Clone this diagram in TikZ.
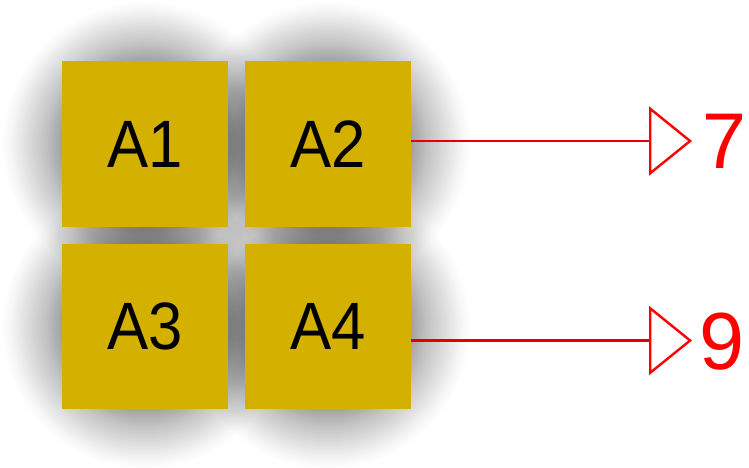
\documentclass[tikz,border=0pt]{standalone}
\usepackage{fontspec}
\usetikzlibrary{arrows.meta}
\newfontfamily\cellfont[FakeStretch=0.92]{Liberation Sans}
\newfontfamily\valfont{Liberation Sans}
\definecolor{cellgold}{RGB}{212,176,0}
\definecolor{wirered}{RGB}{228,0,0}
\definecolor{valred}{RGB}{255,0,0}
% darkness of the glow at distance #1 from a cell centre
\pgfmathdeclarefunction{glowdark}{1}{%
  \pgfmathparse{0.37*pow(max(min((145-#1)/62,1),0.0001),1.25)}}
\tikzset{
  cell/.style={fill=cellgold, draw=none, minimum width=166pt, minimum height=166pt,
    inner sep=0pt, font=\cellfont\fontsize{67}{67}\selectfont, text=black},
  wire/.style={draw=wirered, line width=2.8pt,
    -{Triangle[open, length=43pt 0, width=69pt 0, line width=2.4pt 0, color=valred]}},
  val/.style={text=valred, inner sep=0pt, anchor=base west}
}
\begin{document}
\begin{tikzpicture}[x=1pt, y=-1pt]
\useasboundingbox (0,0) rectangle (749,468);
% soft round glows behind the cells, built from stacked translucent discs
\foreach \cx/\cy in {145/144, 328/144, 145/326.5, 328/326.5}{
  \foreach \r in {145,143,...,83}{
    \pgfmathsetmacro{\din}{glowdark(\r)}
    \pgfmathsetmacro{\dout}{glowdark(\r+2)}
    \pgfmathsetmacro{\a}{1-(1-\din)/(1-\dout)}
    \fill[black, fill opacity=\a] (\cx,\cy) circle (\r);
  }
}
% cells
\node[cell] (A1) at (145,144) {A1};
\node[cell] (A2) at (328,144) {A2};
\node[cell, minimum height=165pt] (A3) at (145,326.5) {A3};
\node[cell, minimum height=165pt] (A4) at (328,326.5) {A4};
% outputs
\coordinate (t7) at (692,141);
\coordinate (t9) at (692,340.5);
\node[val, font=\valfont\fontsize{79}{79}\selectfont] (v7) at (702,168) {7};
\node[val, font=\valfont\fontsize{81}{81}\selectfont] (v9) at (699.5,369) {9};
\draw[wire] (A2.east |- t7) -- (t7);
\draw[wire] (A4.east |- t9) -- (t9);
\end{tikzpicture}
\end{document}
